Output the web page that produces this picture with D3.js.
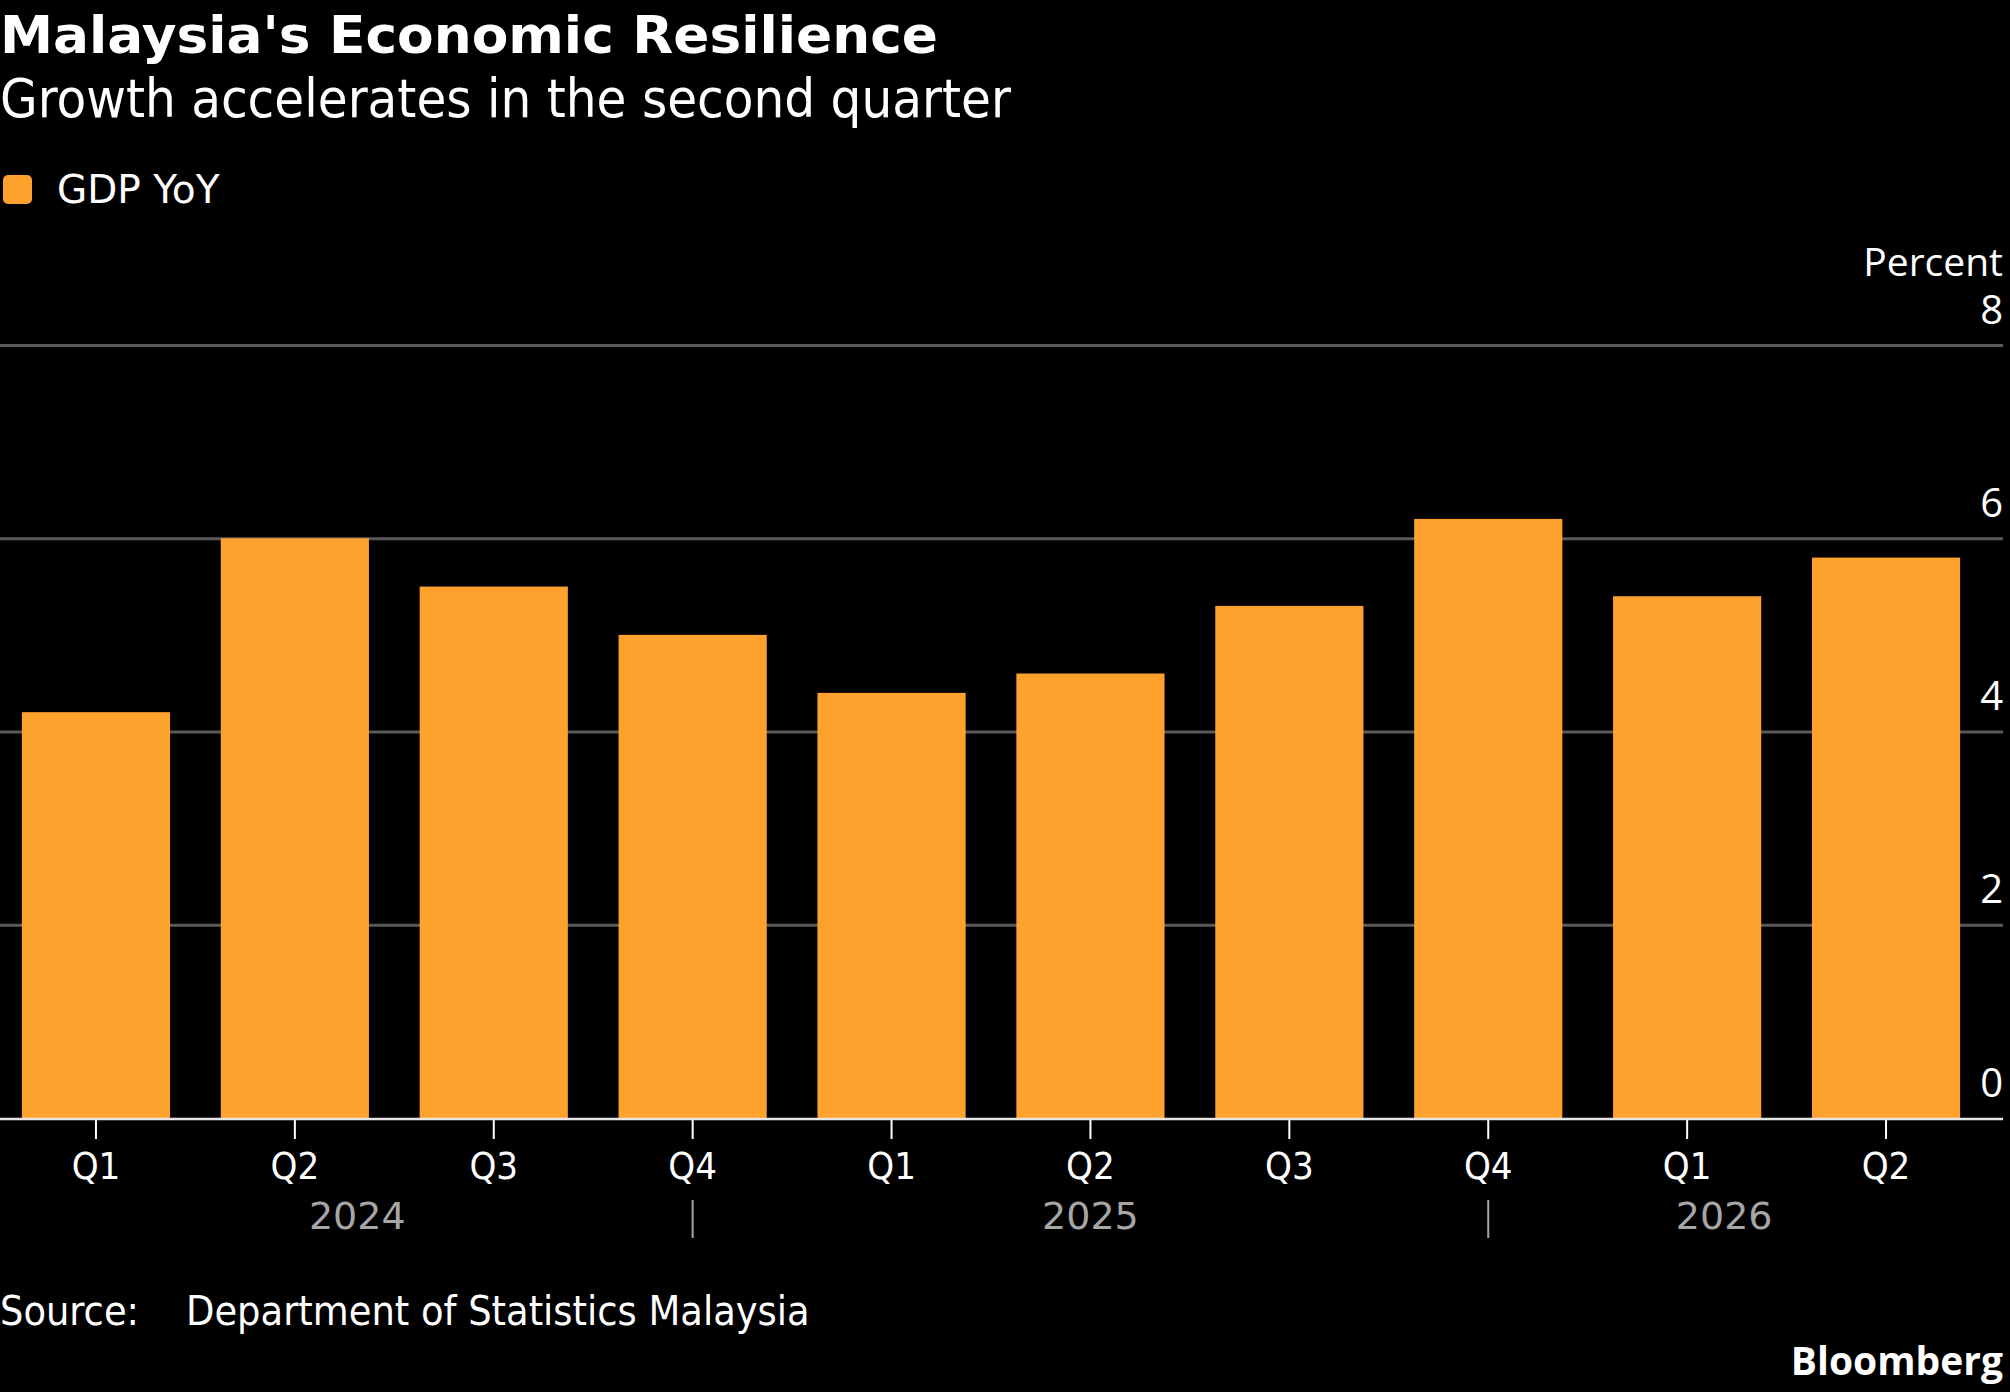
<!DOCTYPE html>
<html lang="en">
<head>
  <meta charset="UTF-8">
  <title>Malaysia's Economic Resilience</title>
  <script src="https://d3js.org/d3.v7.min.js"></script>
  <style>
    body { margin: 0; background: #000; }
  </style>
</head>
<body>
  <svg id="svg1"></svg>
  <script type="module">
    const quarters = ["Q1", "Q2", "Q3", "Q4", "Q1", "Q2", "Q3", "Q4", "Q1", "Q2"];
    const years = ["2024", "2024", "2024", "2024", "2025", "2025", "2025", "2025", "2026", "2026"];
    const gdpYoY = [4.2, 6.0, 5.5, 5.0, 4.4, 4.6, 5.3, 6.2, 5.4, 5.8];
    const yTicks = [0, 2, 4, 6, 8];

    const width = 2010;
    const height = 1392;
    const condensed = '"DejaVu Sans Condensed", "DejaVu Sans", sans-serif';
    const dejavu = '"DejaVu Sans", sans-serif';
    const openSans = '"Open Sans", "Noto Sans", sans-serif';
    const orange = '#ffa12d';

    const svg = d3.select('#svg1')
      .attr('width', width)
      .attr('height', height)
      .style('background', '#000');

    const xScale = d3.scaleBand()
      .domain(d3.range(gdpYoY.length))
      .range([0, 1982])
      .paddingInner(0.255)
      .paddingOuter(0.11);

    const yScale = d3.scaleLinear()
      .domain([0, 8])
      .range([1118, 345]);

    // titles
    svg.append('text')
      .attr('x', 0).attr('y', 53)
      .attr('font-family', dejavu)
      .attr('font-weight', 'bold')
      .attr('font-size', 52)
      .attr('textLength', 938)
      .attr('lengthAdjust', 'spacingAndGlyphs')
      .attr('fill', '#fff')
      .text("Malaysia's Economic Resilience");

    svg.append('text')
      .attr('x', 0).attr('y', 117)
      .attr('font-family', condensed)
      .attr('font-size', 54)
      .attr('fill', '#fff')
      .text('Growth accelerates in the second quarter');

    // legend
    svg.append('rect')
      .attr('x', 3).attr('y', 175)
      .attr('width', 29).attr('height', 29)
      .attr('rx', 5)
      .attr('fill', orange);
    svg.append('text')
      .attr('x', 57).attr('y', 203)
      .attr('font-family', dejavu)
      .attr('font-size', 39)
      .attr('fill', '#fff')
      .text('GDP YoY');

    // gridlines
    const grid = svg.append('g')
      .call(d3.axisRight(yScale).tickValues(yTicks.filter(d => d !== 0)).tickSize(2003).tickFormat(''));
    grid.select('.domain').remove();
    grid.selectAll('.tick text').remove();
    grid.selectAll('.tick line').attr('stroke', '#5a5a5a').attr('stroke-width', 3);

    // bars
    svg.append('g')
      .selectAll('rect')
      .data(gdpYoY)
      .enter()
      .append('rect')
      .attr('x', (d, i) => xScale(i))
      .attr('y', d => yScale(d))
      .attr('width', xScale.bandwidth())
      .attr('height', d => yScale(0) - yScale(d))
      .attr('fill', orange);

    // y axis labels
    const leftAxis = d3.axisLeft(yScale).tickValues(yTicks).tickSize(0).tickPadding(0);
    const yAxis = svg.append('g')
      .attr('transform', `translate(${2003}, 0)`)
      .call(leftAxis);
    yAxis.select('.domain').remove();
    yAxis.selectAll('text')
      .attr('dy', null)
      .attr('y', -22)
      .attr('fill', '#fff')
      .attr('font-family', openSans)
      .attr('font-size', 40);

    svg.append('text')
      .attr('x', 2003).attr('y', 276)
      .attr('text-anchor', 'end')
      .attr('font-family', openSans)
      .attr('font-size', 39)
      .attr('fill', '#fff')
      .text('Percent');

    // x axis
    const bottomAxis = d3.axisBottom(xScale)
      .tickFormat(i => quarters[i])
      .tickSize(21)
      .tickPadding(13);
    const xAxis = svg.append('g')
      .attr('transform', `translate(0, ${yScale(0)})`)
      .call(bottomAxis);
    xAxis.select('.domain').remove();
    xAxis.selectAll('.tick line').attr('stroke', '#fff').attr('stroke-width', 2);
    xAxis.selectAll('text')
      .attr('fill', '#fff')
      .attr('font-family', condensed)
      .attr('font-size', 38);

    svg.append('line')
      .attr('x1', 0).attr('x2', 2003)
      .attr('y1', yScale(0) + 1).attr('y2', yScale(0) + 1)
      .attr('stroke', '#e6e6e6')
      .attr('stroke-width', 2.5);

    // year groups
    const center = i => xScale(i) + xScale.bandwidth() / 2;
    const bounds = [xScale(0)];
    const seps = [];
    years.forEach((y, i) => {
      if (i < years.length - 1 && years[i + 1] !== y) {
        bounds.push(center(i));
        seps.push(center(i));
      }
    });
    bounds.push(xScale(years.length - 1) + xScale.bandwidth());
    const yearLabels = Array.from(new Set(years));

    svg.append('g')
      .selectAll('text')
      .data(yearLabels)
      .enter()
      .append('text')
      .attr('x', (d, i) => (bounds[i] + bounds[i + 1]) / 2)
      .attr('y', 1229)
      .attr('text-anchor', 'middle')
      .attr('font-family', dejavu)
      .attr('font-size', 38)
      .attr('fill', '#a6a6a6')
      .text(d => d);

    svg.append('g')
      .selectAll('line')
      .data(seps)
      .enter()
      .append('line')
      .attr('x1', d => d).attr('x2', d => d)
      .attr('y1', 1200).attr('y2', 1238)
      .attr('stroke', '#a6a6a6')
      .attr('stroke-width', 2);

    // footer
    svg.append('text')
      .attr('x', 0).attr('y', 1325)
      .attr('font-family', condensed)
      .attr('font-size', 41)
      .attr('fill', '#fff')
      .text('Source:');
    svg.append('text')
      .attr('x', 186).attr('y', 1325)
      .attr('font-family', condensed)
      .attr('font-size', 41)
      .attr('fill', '#fff')
      .text('Department of Statistics Malaysia');

    svg.append('text')
      .attr('x', 2003).attr('y', 1375)
      .attr('text-anchor', 'end')
      .attr('font-family', openSans)
      .attr('font-weight', 'bold')
      .attr('font-size', 39)
      .attr('fill', '#fff')
      .text('Bloomberg');
  </script>
</body>
</html>
